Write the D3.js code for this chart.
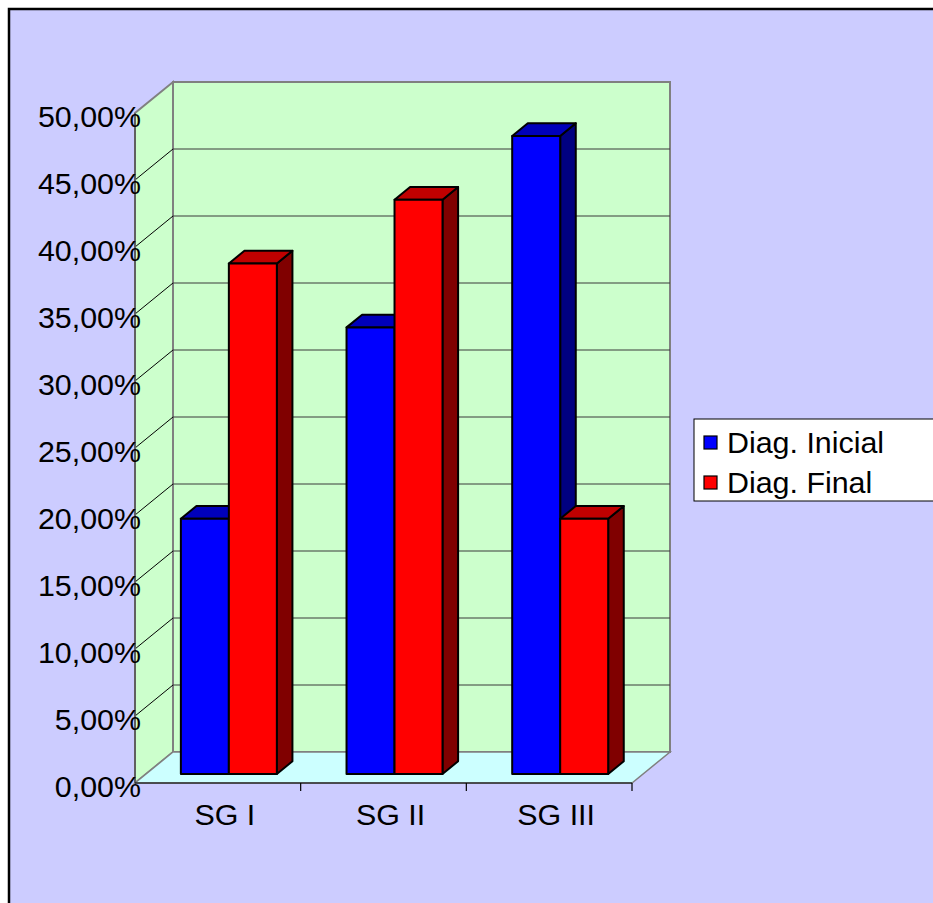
<!DOCTYPE html>
<html>
<head>
<meta charset="utf-8">
<script src="https://cdn.jsdelivr.net/npm/d3@7"></script>
<style>
  html, body { margin: 0; padding: 0; background: #ffffff; }
  svg { display: block; font-family: "Liberation Sans", Arial, sans-serif; }
</style>
</head>
<body>
<div id="chart"></div>
<script>
// ---- data ----
const categories = ["SG I", "SG II", "SG III"];
const seriesNames = ["Diag. Inicial", "Diag. Final"];
const diagInicial = [19.05, 33.33, 47.62];
const diagFinal = [38.10, 42.86, 19.05];
const yTicks = [0, 5, 10, 15, 20, 25, 30, 35, 40, 45, 50];

const W = 933, H = 903;
const svg = d3.select("#chart").append("svg").attr("width", W).attr("height", H);

// frame
svg.append("rect").attr("x", 9).attr("y", 9).attr("width", W + 20).attr("height", H + 20)
  .attr("fill", "#CCCCFF").attr("stroke", "#000").attr("stroke-width", 2.5);

// 3D projection
const DX = 38, DY = 31;
const x = d3.scaleBand().domain(categories).range([135, 632]);
const y = d3.scaleLinear().domain([0, 50]).range([783, 113]);
const P = (xf, v, t) => [xf + DX * t, y(v) - DY * t];
const x0 = 135, x1 = 632;
const poly = pts => pts.map(p => p.join(",")).join(" ");

const wallFill = "#CCFFCC", floorFill = "#CCFFFF", edge = "#808080";

// back wall
svg.append("polygon").attr("points", poly([P(x0, 0, 1), P(x1, 0, 1), P(x1, 50, 1), P(x0, 50, 1)]))
  .attr("fill", wallFill).attr("stroke", edge).attr("stroke-width", 2);
// left wall
svg.append("polygon").attr("points", poly([P(x0, 0, 0), P(x0, 0, 1), P(x0, 50, 1), P(x0, 50, 0)]))
  .attr("fill", wallFill).attr("stroke", edge).attr("stroke-width", 2);

// gridlines
const gridVals = yTicks.filter(v => v > 0 && v < 50);
svg.append("g").selectAll("line.back").data(gridVals).join("line")
  .attr("x1", d => P(x0, d, 1)[0]).attr("y1", d => P(x0, d, 1)[1])
  .attr("x2", d => P(x1, d, 1)[0]).attr("y2", d => P(x1, d, 1)[1])
  .attr("stroke", "#3a3a3a").attr("stroke-width", 1);
svg.append("g").selectAll("line.side").data(gridVals).join("line")
  .attr("x1", d => P(x0, d, 0)[0]).attr("y1", d => P(x0, d, 0)[1])
  .attr("x2", d => P(x0, d, 1)[0]).attr("y2", d => P(x0, d, 1)[1])
  .attr("stroke", "#000").attr("stroke-width", 1);

// floor
svg.append("polygon").attr("points", poly([P(x0, 0, 0), P(x1, 0, 0), P(x1, 0, 1), P(x0, 0, 1)]))
  .attr("fill", floorFill).attr("stroke", edge).attr("stroke-width", 1.5);

// front vertical edge of left wall
svg.append("line").attr("x1", x0).attr("y1", y(0)).attr("x2", x0).attr("y2", y(50))
  .attr("stroke", "#606060").attr("stroke-width", 2);

// x axis line and ticks
svg.append("line").attr("x1", x0).attr("y1", y(0)).attr("x2", x1).attr("y2", y(0))
  .attr("stroke", "#000").attr("stroke-width", 1.2);
svg.append("g").selectAll("line").data(categories).join("line")
  .attr("x1", d => x(d) + x.bandwidth()).attr("x2", d => x(d) + x.bandwidth())
  .attr("y1", y(0)).attr("y2", y(0) + 8)
  .attr("stroke", "#000").attr("stroke-width", 1.2);

// bars
const t0 = 0.29, t1 = 0.70;
const inner = d3.scaleBand().domain(seriesNames).range([0, x.bandwidth()]).paddingInner(0).paddingOuter(0.726);
const colors = {
  "Diag. Inicial": { front: "#0000FF", top: "#0000BB", side: "#000080" },
  "Diag. Final": { front: "#FF0000", top: "#C00000", side: "#800000" }
};
const barData = [];
categories.forEach((c, i) => {
  barData.push({ c, s: seriesNames[0], v: diagInicial[i] });
  barData.push({ c, s: seriesNames[1], v: diagFinal[i] });
});
const bars = svg.append("g").selectAll("g").data(barData).join("g");
bars.each(function (d) {
  const g = d3.select(this);
  const xa = x(d.c) + inner(d.s), xb = xa + inner.bandwidth();
  const col = colors[d.s];
  const st = { stroke: "#000", "stroke-width": 2, "stroke-linejoin": "round" };
  const add = (pts, fill) => {
    const p = g.append("polygon").attr("points", poly(pts)).attr("fill", fill);
    Object.entries(st).forEach(([k, v]) => p.attr(k, v));
  };
  add([P(xb, 0, t0), P(xb, 0, t1), P(xb, d.v, t1), P(xb, d.v, t0)], col.side);
  add([P(xa, d.v, t0), P(xb, d.v, t0), P(xb, d.v, t1), P(xa, d.v, t1)], col.top);
  add([P(xa, 0, t0), P(xb, 0, t0), P(xb, d.v, t0), P(xa, d.v, t0)], col.front);
});

// y tick labels
const loc = d3.formatLocale({ decimal: ",", thousands: ".", grouping: [3], currency: ["", ""] });
const fmt = v => loc.format(".2f")(v) + "%";
svg.append("g").selectAll("text").data(yTicks).join("text")
  .attr("x", 141).attr("y", d => y(d) + 14)
  .attr("text-anchor", "end").attr("font-size", 30.4).attr("fill", "#000")
  .text(d => fmt(d));

// category labels
svg.append("g").selectAll("text").data(categories).join("text")
  .attr("x", d => x(d) + x.bandwidth() / 2 + 7).attr("y", 825)
  .attr("text-anchor", "middle").attr("font-size", 30.4).attr("fill", "#000")
  .text(d => d);

// legend
const lg = svg.append("g");
lg.append("rect").attr("x", 694).attr("y", 419).attr("width", 300).attr("height", 82)
  .attr("fill", "#fff").attr("stroke", "#000").attr("stroke-width", 1);
seriesNames.forEach((s, i) => {
  lg.append("rect").attr("x", 704).attr("y", 436 + i * 40).attr("width", 13).attr("height", 13)
    .attr("fill", colors[s].front).attr("stroke", "#000").attr("stroke-width", 1.2);
  lg.append("text").attr("x", 727).attr("y", 453 + i * 40)
    .attr("font-size", 30.4).attr("fill", "#000").text(s);
});
</script>
</body>
</html>
